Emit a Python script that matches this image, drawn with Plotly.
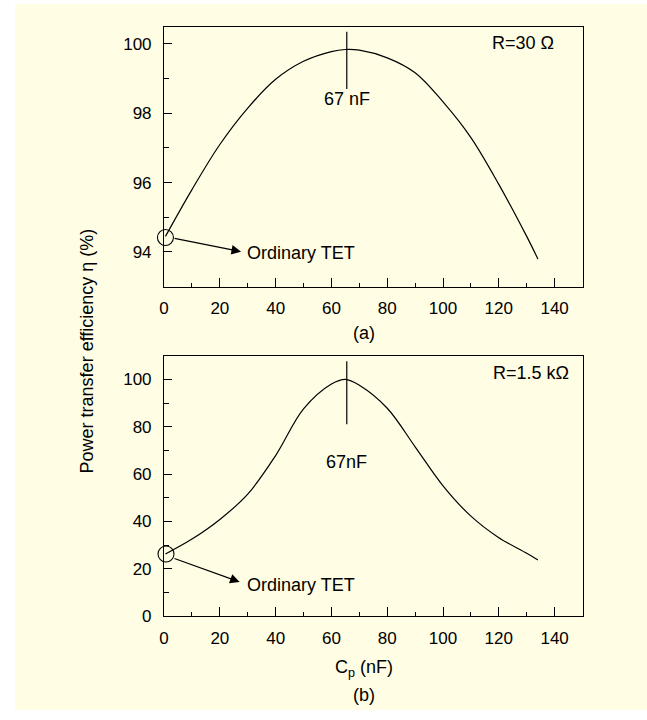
import plotly.graph_objects as go

# ---- data ----
cp_a = [0.5, 10, 20, 30, 40, 50, 60, 65, 70, 80, 90, 100, 110, 120, 130, 134]
eta_a = [94.45, 95.8, 97.1, 98.15, 98.98, 99.5, 99.78, 99.84, 99.82, 99.6, 99.17, 98.33, 97.3, 95.95, 94.45, 93.8]

cp_b = [0.5, 10, 20, 30, 40, 50, 60, 65, 70, 80, 90, 100, 110, 120, 130, 134]
eta_b = [26.2, 32.5, 40.8, 51.5, 67.8, 87.5, 98.0, 100, 97.5, 87.8, 71.5, 55.0, 42.2, 33.1, 26.5, 23.7]

opt_x = [65.5, 65.5]
opt_a_y = [100.35, 98.7]
opt_b_y = [107.6, 81]

ord_a = (0.5, 94.42)
ord_b = (0.7, 26.2)

W, H = 647, 720
FONT = "Liberation Sans, Arial, sans-serif"
BG = "#FFFDE4"
FS = 18

fig = go.Figure()

def px2paper_x(p):
    return p / W

def px2paper_y(p):
    return 1 - p / H

# curves
fig.add_trace(go.Scatter(x=cp_a, y=eta_a, mode="lines", line=dict(color="black", width=1.2, shape="spline", smoothing=1.0),
                         xaxis="x", yaxis="y", showlegend=False))
fig.add_trace(go.Scatter(x=cp_b, y=eta_b, mode="lines", line=dict(color="black", width=1.2, shape="spline", smoothing=1.0),
                         xaxis="x2", yaxis="y2", showlegend=False))
# optimum markers
fig.add_trace(go.Scatter(x=opt_x, y=opt_a_y, mode="lines", line=dict(color="black", width=1.2),
                         xaxis="x", yaxis="y", showlegend=False))
fig.add_trace(go.Scatter(x=opt_x, y=opt_b_y, mode="lines", line=dict(color="black", width=1.2),
                         xaxis="x2", yaxis="y2", showlegend=False))
# ordinary TET circles
fig.add_trace(go.Scatter(x=[ord_a[0]], y=[ord_a[1]], mode="markers", cliponaxis=False,
                         marker=dict(symbol="circle-open", size=16, color="black", line=dict(width=1.1)),
                         xaxis="x", yaxis="y", showlegend=False))
fig.add_trace(go.Scatter(x=[ord_b[0]], y=[ord_b[1]], mode="markers", cliponaxis=False,
                         marker=dict(symbol="circle-open", size=16, color="black", line=dict(width=1.1)),
                         xaxis="x2", yaxis="y2", showlegend=False))

xdom = [px2paper_x(160.3), px2paper_x(582)]
common_x = dict(range=[0, 150], dtick=20, tick0=0, ticks="inside", ticklen=9, tickwidth=1, tickcolor="black",
                showline=True, linecolor="black", linewidth=1.2, mirror=True, showgrid=False, zeroline=False,
                minor=dict(dtick=10, tick0=0, ticks="inside", ticklen=4, tickwidth=1, tickcolor="black", showgrid=False),
                tickfont=dict(family=FONT, size=17, color="black"), ticklabelstandoff=6, domain=xdom)
common_y = dict(ticks="inside", ticklen=8, tickwidth=1, tickcolor="black",
                showline=True, linecolor="black", linewidth=1.2, mirror=True, showgrid=False, zeroline=False,
                tickfont=dict(family=FONT, size=17, color="black"), ticklabelstandoff=8)

fig.update_layout(
    width=W, height=H, autosize=False,
    margin=dict(l=0, r=0, t=0, b=0),
    paper_bgcolor="white", plot_bgcolor="rgba(0,0,0,0)",
    font=dict(family=FONT, size=FS, color="black"),
    xaxis=dict(**common_x, anchor="y"),
    yaxis=dict(**common_y, range=[93, 100.5], dtick=2, tick0=0, anchor="x",
               minor=dict(dtick=1, tick0=0, ticks="inside", ticklen=5, tickwidth=1, tickcolor="black", showgrid=False),
               domain=[px2paper_y(290.7), px2paper_y(27)]),
    xaxis2=dict(**common_x, anchor="y2"),
    yaxis2=dict(**common_y, range=[0, 110], dtick=20, tick0=0, anchor="x2",
                minor=dict(dtick=10, tick0=0, ticks="inside", ticklen=5, tickwidth=1, tickcolor="black", showgrid=False),
                domain=[px2paper_y(624.7), px2paper_y(360.7)]),
    shapes=[dict(type="rect", xref="paper", yref="paper", x0=px2paper_x(10), x1=1, y0=0, y1=px2paper_y(4),
                 fillcolor=BG, line=dict(width=0), layer="below")],
)

ann = [
    dict(x=65.4, y=98.4, xref="x", yref="y", text="67 nF", showarrow=False, xanchor="center", yanchor="middle"),
    dict(x=65.4, y=65.0, xref="x2", yref="y2", text="67nF", showarrow=False, xanchor="center", yanchor="middle"),
    dict(x=140.6, y=100.04, xref="x", yref="y", text="R=30 Ω", showarrow=False, xanchor="right", yanchor="middle"),
    dict(x=145.8, y=102.5, xref="x2", yref="y2", text="R=1.5 kΩ", showarrow=False, xanchor="right", yanchor="middle"),
    dict(x=28.9, y=93.98, xref="x", yref="y", text="Ordinary TET", showarrow=False, xanchor="left", yanchor="middle"),
    dict(x=29.0, y=13.1, xref="x2", yref="y2", text="Ordinary TET", showarrow=False, xanchor="left", yanchor="middle"),
    dict(x=27.6, y=94.01, xref="x", yref="y", text="", showarrow=True, ax=-68, ay=-13.5, axref="pixel", ayref="pixel",
         arrowhead=2, arrowsize=1.6, arrowwidth=1.2, arrowcolor="black"),
    dict(x=27.1, y=14.4, xref="x2", yref="y2", text="", showarrow=True, ax=-66.7, ay=-24, axref="pixel", ayref="pixel",
         arrowhead=2, arrowsize=1.6, arrowwidth=1.2, arrowcolor="black"),
    dict(x=px2paper_x(362), y=px2paper_y(338), xref="paper", yref="paper", text="(a)", showarrow=False,
         xanchor="center", yanchor="middle"),
    dict(x=px2paper_x(362), y=px2paper_y(678), xref="paper", yref="paper", text="C<sub>p</sub> (nF)", showarrow=False,
         xanchor="center", yanchor="middle"),
    dict(x=px2paper_x(362), y=px2paper_y(705), xref="paper", yref="paper", text="(b)", showarrow=False,
         xanchor="center", yanchor="middle"),
    dict(x=px2paper_x(83), y=px2paper_y(356), xref="paper", yref="paper", text="Power transfer efficiency η (%)",
         showarrow=False, textangle=-90, xanchor="center", yanchor="middle"),
]
fig.update_layout(annotations=ann)

fig.write_html("out.html", config={"displayModeBar": False},
               post_script="document.body.style.margin='0';document.body.style.overflow='hidden';")
